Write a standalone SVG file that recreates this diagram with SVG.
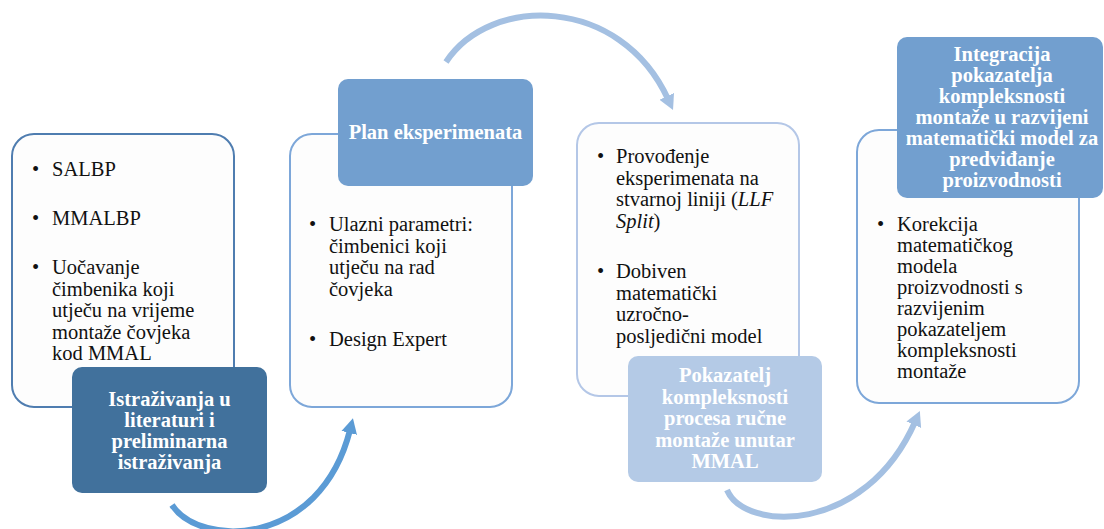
<svg xmlns="http://www.w3.org/2000/svg" width="1104" height="529" viewBox="0 0 1104 529">
<defs>
<style>
.box{fill:#FDFDFD;stroke-width:2}
.t{font-family:'Liberation Serif','DejaVu Serif',serif;font-size:20.5px;fill:#111}
.lb{font-family:'Liberation Serif','DejaVu Serif',serif;font-size:20.5px;font-weight:bold;fill:#FFFFFF;text-anchor:middle}
.arc{fill:none;stroke-width:6}
</style>
<marker id="ahDark" markerUnits="userSpaceOnUse" markerWidth="18" markerHeight="18" refX="3" refY="9" orient="auto"><path d="M0,1 L15,9 L0,17 z" fill="#5B9BD5"/></marker>
<marker id="ahLight" markerUnits="userSpaceOnUse" markerWidth="18" markerHeight="18" refX="3" refY="9" orient="auto"><path d="M0,1 L15,9 L0,17 z" fill="#A4C0E2"/></marker>
</defs>
<rect width="1104" height="529" fill="#FFFFFF"/>

<g id="connectors">
<path class="arc" stroke="#5B9BD5" d="M172,505 C200,548 320,548 350,430" marker-end="url(#ahDark)"/>
<path class="arc" stroke="#A4C0E2" d="M446,62 C490,-5 620,-5 668,99" marker-end="url(#ahLight)"/>
<path class="arc" stroke="#A4C0E2" d="M727,490 C745,532 865,535 915,422" marker-end="url(#ahLight)"/>
</g>

<g id="node1">
<rect class="box" x="12" y="134" width="222" height="273" rx="22" stroke="#4F7DB0"/>
<text class="t" x="32" y="176">•</text><text class="t" x="52" y="176">SALBP</text>
<text class="t" x="32" y="225">•</text><text class="t" x="52" y="225">MMALBP</text>
<text class="t" x="32" y="274">•</text>
<text class="t"><tspan x="52" y="274">Uočavanje</tspan><tspan x="52" y="295.5">čimbenika koji</tspan><tspan x="52" y="317">utječu na vrijeme</tspan><tspan x="52" y="338.5">montaže čovjeka</tspan><tspan x="52" y="360">kod MMAL</tspan></text>
<rect x="72" y="367" width="195" height="126" rx="10" fill="#41719C"/>
<text class="lb"><tspan x="169.5" y="406">Istraživanja u</tspan><tspan x="169.5" y="427">literaturi i</tspan><tspan x="169.5" y="448">preliminarna</tspan><tspan x="169.5" y="469">istraživanja</tspan></text>
</g>

<g id="node2">
<rect class="box" x="290" y="134" width="222" height="273" rx="22" stroke="#7DA7D9"/>
<text class="t" x="309" y="231">•</text>
<text class="t"><tspan x="329" y="231">Ulazni parametri:</tspan><tspan x="329" y="252.5">čimbenici koji</tspan><tspan x="329" y="274">utječu na rad</tspan><tspan x="329" y="295.5">čovjeka</tspan></text>
<text class="t" x="309" y="346">•</text><text class="t" x="329" y="346">Design Expert</text>
<rect x="338" y="79" width="195" height="107" rx="10" fill="#729FCF"/>
<text class="lb" x="435.5" y="139">Plan eksperimenata</text>
</g>

<g id="node3">
<rect class="box" x="577" y="123" width="222" height="273" rx="22" stroke="#B4C7E7"/>
<text class="t" x="597" y="163">•</text>
<text class="t"><tspan x="616" y="163">Provođenje</tspan><tspan x="616" y="184.5">eksperimenata na</tspan><tspan x="616" y="206">stvarnoj liniji (<tspan font-style="italic">LLF</tspan></tspan><tspan x="616" y="227.5"><tspan font-style="italic">Split</tspan>)</tspan></text>
<text class="t" x="597" y="278">•</text>
<text class="t"><tspan x="616" y="278">Dobiven</tspan><tspan x="616" y="299.5">matematički</tspan><tspan x="616" y="321">uzročno-</tspan><tspan x="616" y="342.5">posljedični model</tspan></text>
<rect x="628" y="356" width="194" height="126" rx="10" fill="#B4CAE6"/>
<text class="lb"><tspan x="725" y="382">Pokazatelj</tspan><tspan x="725" y="403.5">kompleksnosti</tspan><tspan x="725" y="425">procesa ručne</tspan><tspan x="725" y="446.5">montaže unutar</tspan><tspan x="725" y="468">MMAL</tspan></text>
</g>

<g id="node4">
<rect class="box" x="857" y="130" width="222" height="273" rx="22" stroke="#7DA7D9"/>
<text class="t" x="877" y="231">•</text>
<text class="t"><tspan x="897" y="231">Korekcija</tspan><tspan x="897" y="252">matematičkog</tspan><tspan x="897" y="273">modela</tspan><tspan x="897" y="294">proizvodnosti s</tspan><tspan x="897" y="315">razvijenim</tspan><tspan x="897" y="336">pokazateljem</tspan><tspan x="897" y="357">kompleksnosti</tspan><tspan x="897" y="378">montaže</tspan></text>
<rect x="897" y="37" width="206" height="161" rx="10" fill="#729FCF"/>
<text class="lb"><tspan x="1002" y="61">Integracija</tspan><tspan x="1002" y="82">pokazatelja</tspan><tspan x="1002" y="103">kompleksnosti</tspan><tspan x="1002" y="124">montaže u razvijeni</tspan><tspan x="1002" y="145">matematički model za</tspan><tspan x="1002" y="166">predviđanje</tspan><tspan x="1002" y="187">proizvodnosti</tspan></text>
</g>
</svg>
